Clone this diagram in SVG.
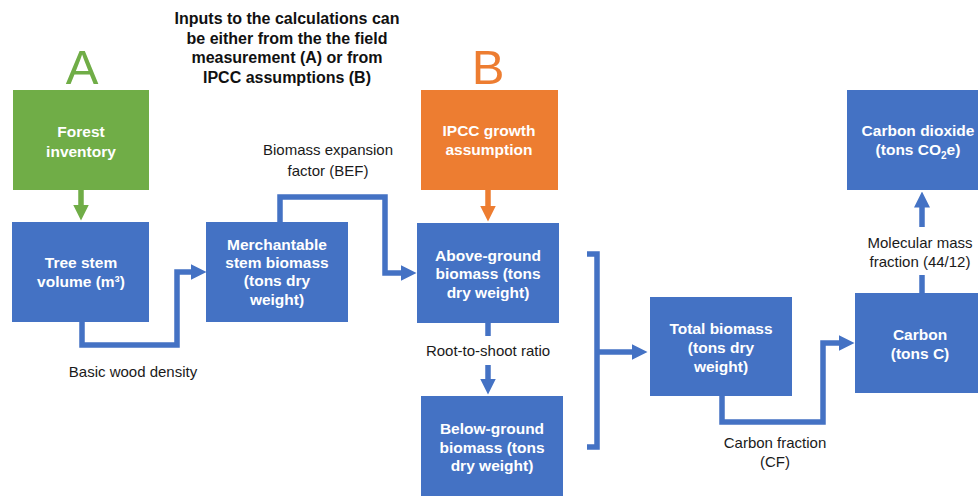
<svg xmlns="http://www.w3.org/2000/svg" width="978" height="496" viewBox="0 0 978 496">
<defs>
<style>
.box{fill:#4472C4}
.green{fill:#70AD47}
.orange{fill:#ED7D31}
.bt{font-family:"Liberation Sans",Arial,sans-serif;font-weight:bold;font-size:15.5px;fill:#ffffff;text-anchor:middle}
.lbl{font-family:"Liberation Sans",Arial,sans-serif;font-size:15px;fill:#1a1a1a;text-anchor:middle}
.title{font-family:"Liberation Sans",Arial,sans-serif;font-weight:bold;font-size:16px;fill:#111111;text-anchor:middle}
.big{font-family:"Liberation Sans",Arial,sans-serif;font-size:49px;text-anchor:middle}
.c{fill:none;stroke:#4472C4;stroke-width:5.5;stroke-linejoin:miter}
</style>
<marker id="ab" viewBox="0 0 16 16" refX="0.5" refY="8" markerWidth="16" markerHeight="16" markerUnits="userSpaceOnUse" orient="auto"><path d="M0,0 L16,8 L0,16 z" fill="#4472C4"/></marker>
<marker id="ag" viewBox="0 0 16 16" refX="0.5" refY="8" markerWidth="16" markerHeight="16" markerUnits="userSpaceOnUse" orient="auto"><path d="M0,0 L16,8 L0,16 z" fill="#70AD47"/></marker>
<marker id="ao" viewBox="0 0 16 16" refX="0.5" refY="8" markerWidth="16" markerHeight="16" markerUnits="userSpaceOnUse" orient="auto"><path d="M0,0 L16,8 L0,16 z" fill="#ED7D31"/></marker>
</defs>
<rect width="978" height="496" fill="#ffffff"/>

<g id="title">
<text class="title" x="287" y="24">Inputs to the calculations can</text>
<text class="title" x="287" y="43.5">be either from the the field</text>
<text class="title" x="287" y="63">measurement (A) or from</text>
<text class="title" x="287" y="82.5">IPCC assumptions (B)</text>
</g>
<text class="big" x="82" y="84" fill="#70AD47">A</text>
<text class="big" x="488" y="84" fill="#ED7D31">B</text>

<g id="connectors">
<path class="c" style="stroke:#70AD47" d="M81,190 V205" marker-end="url(#ag)"/>
<path class="c" style="stroke:#ED7D31" d="M488,190 V206" marker-end="url(#ao)"/>
<path class="c" d="M82,322 V345 H177 V272 H191" marker-end="url(#ab)"/>
<path class="c" d="M280,222 V197 H385 V273 H401" marker-end="url(#ab)"/>
<path class="c" d="M488,323 V336"/>
<path class="c" d="M488,365 V379" marker-end="url(#ab)"/>
<path class="c" d="M587,254 H597 V447 H587"/>
<path class="c" d="M597,352 H632" marker-end="url(#ab)"/>
<path class="c" d="M722,396 V422 H823 V343 H839" marker-end="url(#ab)"/>
<path class="c" d="M922,293 V275"/>
<path class="c" d="M922,227 V207" marker-end="url(#ab)"/>
</g>

<g id="forest-inventory">
<rect class="green" x="13" y="90" width="136" height="100"/>
<text class="bt" x="81" y="137">Forest</text>
<text class="bt" x="81" y="157">inventory</text>
</g>
<g id="tree-stem-volume">
<rect class="box" x="12" y="222" width="137" height="100"/>
<text class="bt" x="81" y="268">Tree stem</text>
<text class="bt" x="81" y="287">volume (m³)</text>
</g>
<g id="merchantable-stem-biomass">
<rect class="box" x="206" y="222" width="142" height="100"/>
<text class="bt" x="277" y="250">Merchantable</text>
<text class="bt" x="277" y="268">stem biomass</text>
<text class="bt" x="277" y="286">(tons dry</text>
<text class="bt" x="277" y="305">weight)</text>
</g>
<g id="ipcc-growth">
<rect class="orange" x="421" y="90" width="137" height="100"/>
<text class="bt" x="489" y="136">IPCC growth</text>
<text class="bt" x="489" y="155">assumption</text>
</g>
<g id="above-ground">
<rect class="box" x="417" y="223" width="142" height="100"/>
<text class="bt" x="488" y="261">Above-ground</text>
<text class="bt" x="488" y="279">biomass (tons</text>
<text class="bt" x="488" y="298">dry weight)</text>
</g>
<g id="below-ground">
<rect class="box" x="421" y="396" width="142" height="104"/>
<text class="bt" x="492" y="434">Below-ground</text>
<text class="bt" x="492" y="453">biomass (tons</text>
<text class="bt" x="492" y="471">dry weight)</text>
</g>
<g id="total-biomass">
<rect class="box" x="650" y="297" width="142" height="99"/>
<text class="bt" x="721" y="334">Total biomass</text>
<text class="bt" x="721" y="353">(tons dry</text>
<text class="bt" x="721" y="372">weight)</text>
</g>
<g id="carbon">
<rect class="box" x="855" y="293" width="135" height="100"/>
<text class="bt" x="920" y="340">Carbon</text>
<text class="bt" x="920" y="359">(tons C)</text>
</g>
<g id="carbon-dioxide">
<rect class="box" x="847" y="90" width="143" height="100"/>
<text class="bt" x="918" y="136">Carbon dioxide</text>
<text class="bt" x="918" y="155">(tons CO<tspan font-size="10" dy="4">2</tspan><tspan dy="-4">e)</tspan></text>
</g>

<g id="labels">
<text class="lbl" x="328" y="155">Biomass expansion</text>
<text class="lbl" x="328" y="176">factor (BEF)</text>
<text class="lbl" x="133" y="377">Basic wood density</text>
<text class="lbl" x="488" y="356">Root-to-shoot ratio</text>
<text class="lbl" x="775" y="448">Carbon fraction</text>
<text class="lbl" x="775" y="467">(CF)</text>
<text class="lbl" x="920" y="248">Molecular mass</text>
<text class="lbl" x="920" y="267">fraction (44/12)</text>
</g>
</svg>
